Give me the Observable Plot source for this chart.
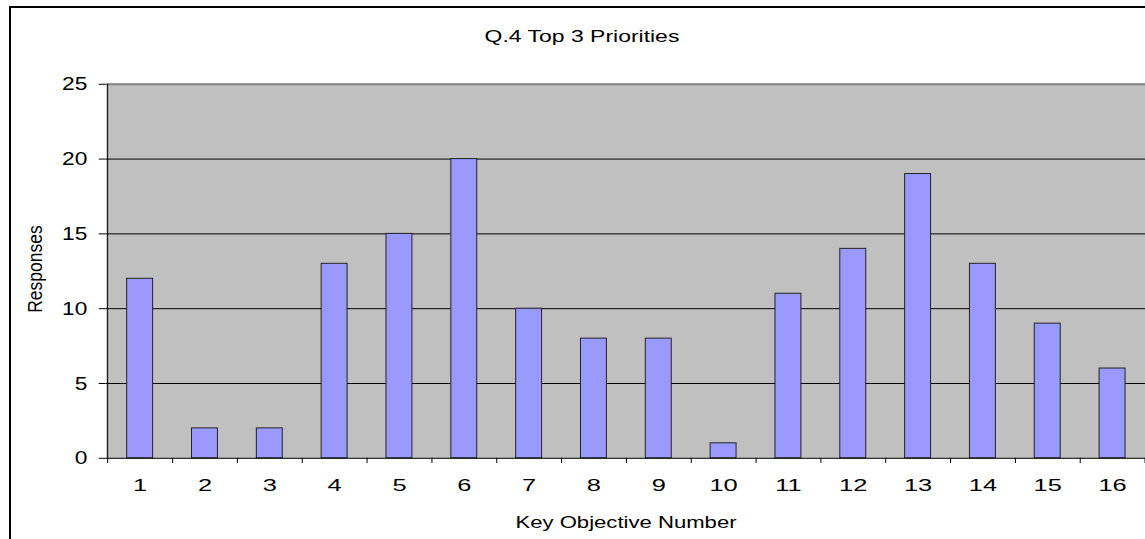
<!DOCTYPE html>
<html>
<head>
<meta charset="utf-8">
<script src="https://cdn.jsdelivr.net/npm/d3@7"></script>
<script src="https://cdn.jsdelivr.net/npm/@observablehq/plot@0.6"></script>
<style>
  html, body { margin: 0; padding: 0; background: #fff; overflow: hidden; width: 1145px; height: 539px; }
  #wrap { position: relative; width: 1145px; height: 539px; font-family: "Liberation Sans", Arial, sans-serif; color: #000; }
  #frame { position: absolute; left: 9px; top: 6px; width: 1300px; height: 700px; border-left: 2px solid #000; border-top: 2px solid #000; box-sizing: border-box; pointer-events: none; }
  .lbl { position: absolute; white-space: nowrap; font-size: 17px; line-height: 1; }
  #chart { position: absolute; left: 0; top: 0; }
</style>
</head>
<body>
<div id="wrap">
  <div id="chart"></div>
  <div id="frame"></div>
  <div class="lbl" id="title" style="left:582px; top:36px; transform: translate(-50%,-50%) scaleX(1.35);">Q.4 Top 3 Priorities</div>
  <div class="lbl" id="xlabel" style="left:626px; top:522px; transform: translate(-50%,-50%) scaleX(1.3);">Key Objective Number</div>
  <div class="lbl" id="ylabel" style="left:36px; top:269px; font-size:17.5px; transform: translate(-50%,-50%) rotate(-90deg) scaleY(1.2);">Responses</div>
</div>
<script>
const categories = ["1","2","3","4","5","6","7","8","9","10","11","12","13","14","15","16"];
const responses = [12, 2, 2, 13, 15, 20, 10, 8, 8, 1, 11, 14, 19, 13, 9, 6];
const yTicks = [0, 5, 10, 15, 20, 25];
const gridValues = [5, 10, 15, 20];

const data = categories.map((c, i) => ({cat: c, value: responses[i]}));

const W = 1148, H = 539, ML = 106, MR = 0, MT = 84, MB = 80;
const step = (W - ML - MR) / categories.length;

const chart = Plot.plot({
  width: W,
  height: H,
  marginLeft: ML,
  marginRight: MR,
  marginTop: MT,
  marginBottom: MB,
  style: {fontFamily: "'Liberation Sans', Arial, sans-serif", color: "#000", background: "transparent"},
  x: {type: "band", domain: categories, paddingInner: 0.6, paddingOuter: 0.3, label: null},
  y: {domain: [0, 25], label: null},
  marks: [
    Plot.frame({fill: "#c0c0c0", stroke: null}),
    Plot.ruleY(gridValues, {stroke: "#000", strokeWidth: 1}),
    Plot.ruleY([25], {stroke: "#808080", strokeWidth: 2}),
    Plot.barY(data, {x: "cat", y: "value", fill: "#9999ff", stroke: "#222", strokeWidth: 1}),
    Plot.ruleY([0], {stroke: "#000", strokeWidth: 1}),
    // category boundary ticks below axis
    Plot.ruleX(categories, {x: d => d, y1: 0, y2: -0.35, dx: step / 2, stroke: "#000", strokeWidth: 1}),
    // left axis line
    Plot.ruleX([categories[0]], {x: d => d, y1: -0.35, y2: 25, dx: -step / 2, stroke: "#000", strokeWidth: 1}),
    Plot.axisY({ticks: yTicks, tickSize: 7, tickPadding: 12, fontSize: 19, label: null, anchor: "left"}),
    Plot.axisX({tickSize: 0, tickPadding: 21, fontSize: 17, label: null, anchor: "bottom"})
  ]
});
document.getElementById("chart").appendChild(chart);

// horizontally stretch tick label glyphs like the reference
d3.select(chart).selectAll("text").each(function () {
  const t = d3.select(this);
  const g = this.closest("g[aria-label]");
  const label = g ? g.getAttribute("aria-label") : "";
  let s = null;
  if (label === "y-axis tick label") s = 1.2;
  else if (label === "x-axis tick label") s = 1.5;
  if (s) {
    const tr = t.attr("transform") || "";
    t.attr("transform", (tr + ` scale(${s},1)`).trim());
  }
});
</script>
</body>
</html>
